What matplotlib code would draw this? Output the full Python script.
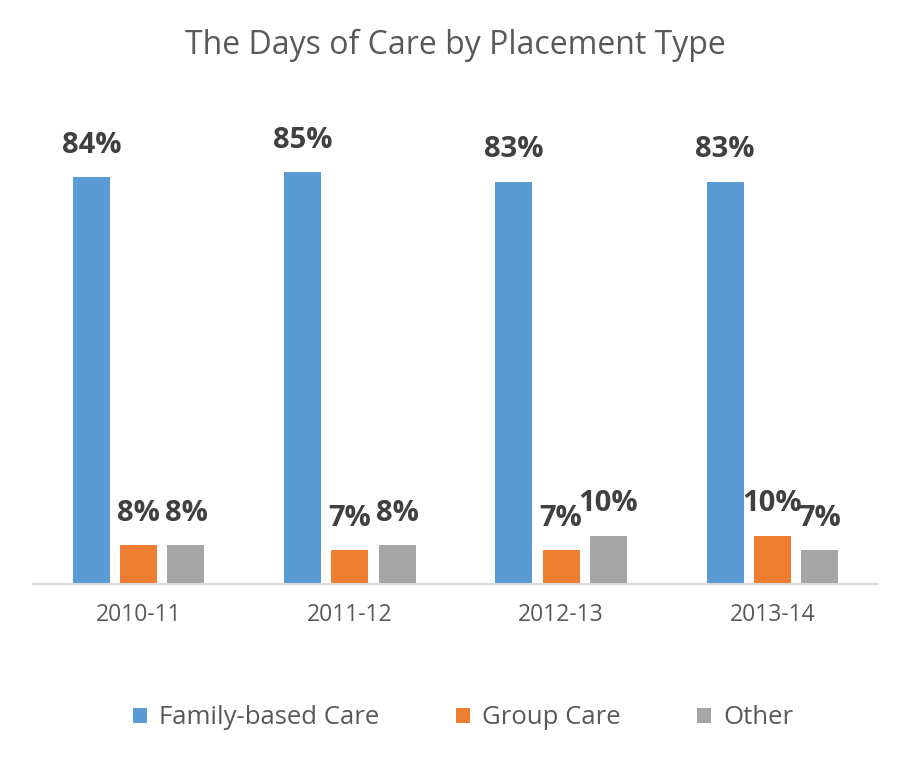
import matplotlib
matplotlib.use("Agg")
import matplotlib.pyplot as plt
import numpy as np

years = ["2010-11", "2011-12", "2012-13", "2013-14"]
series_names = ["Family-based Care", "Group Care", "Other"]
family = [84, 85, 83, 83]
group = [8, 7, 7, 10]
other = [8, 8, 10, 7]
colors = ["#5b9bd5", "#ed7d31", "#a5a5a5"]

plt.rcParams['font.family'] = ['Open Sans', 'DejaVu Sans']

fig = plt.figure(figsize=(9.1, 7.62), dpi=100)
ax = fig.add_axes([33/910, 1-584/762, 845/910, 454/762])

x = np.arange(len(years))
width = 0.175
offset = 0.224
handles = []
for i, (vals, name, c) in enumerate(zip([family, group, other], series_names, colors)):
    bars = ax.bar(x + (i-1)*offset, vals, width, color=c, label=name, zorder=2)
    handles.append(bars)
    for b, v in zip(bars, vals):
        ax.annotate(f"{v}%", (b.get_x()+b.get_width()/2, v), xytext=(0, 12.5),
                    textcoords="offset points", ha="center", va="bottom",
                    fontsize=21, fontweight="bold", color="#404040")

ax.set_xlim(-0.5, 3.5)
ax.set_ylim(0, 93.7)
ax.set_xticks(x)
ax.set_xticklabels(years, fontsize=16.5, color="#595959")
ax.tick_params(axis='x', length=0, pad=14)
ax.set_yticks([])
for s in ["top", "right", "left"]:
    ax.spines[s].set_visible(False)
ax.spines["bottom"].set_color("#d9d9d9")
ax.spines["bottom"].set_linewidth(1.5)

fig.text(0.5, 1-45/762, "The Days of Care by Placement Type", ha="center", va="center",
         fontsize=23, color="#595959")

fig.legend(handles=handles, labels=series_names, loc="center", bbox_to_anchor=(463/910, 1-718/762),
           ncol=3, frameon=False, fontsize=18.5, labelcolor="#595959",
           handlelength=0.55, handleheight=0.55, handletextpad=0.45, columnspacing=3.0)

fig.savefig("out.png", dpi=100)
